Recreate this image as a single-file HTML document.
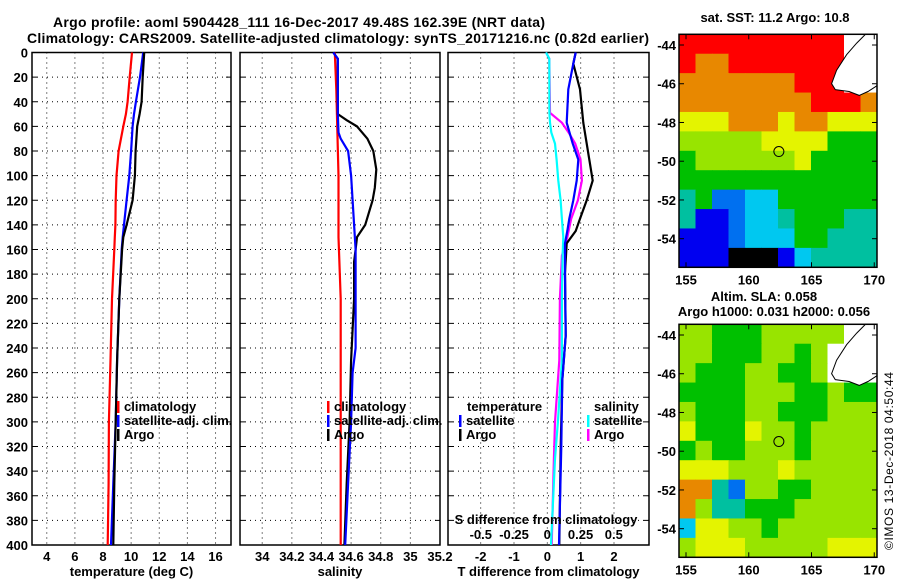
<!DOCTYPE html>
<html><head><meta charset="utf-8"><style>
body{margin:0;background:#fff;}
svg{display:block;font-family:"Liberation Sans",sans-serif;font-weight:bold;}
text{font-size:13px;fill:#000;}
</style></head><body>
<svg id="s" width="900" height="580" viewBox="0 0 900 580">
<text x="299" y="27" text-anchor="middle" style="font-size:14px" textLength="492">Argo profile: aoml 5904428_111 16-Dec-2017 49.48S 162.39E (NRT data)</text>
<text x="338" y="43" text-anchor="middle" style="font-size:14px" textLength="622">Climatology: CARS2009. Satellite-adjusted climatology: synTS_20171216.nc (0.82d earlier)</text>
<text x="775" y="22" text-anchor="middle">sat. SST: 11.2 Argo: 10.8</text>
<text x="764" y="301" text-anchor="middle">Altim. SLA: 0.058</text>
<text x="774" y="316" text-anchor="middle">Argo h1000: 0.031 h2000: 0.056</text>
<text transform="translate(893,550) rotate(-90)" style="font-size:12px;font-weight:normal" textLength="178">©IMOS 13-Dec-2018 04:50:44</text>
<g id="g"></g>
</svg>
<script>
// ---- data ----
const depthTicks=[0,20,40,60,80,100,120,140,160,180,200,220,240,260,280,300,320,340,360,380,400];
const tempTicks=[4,6,8,10,12,14,16];
const salTicks=[34,34.2,34.4,34.6,34.8,35,35.2];
const tdiffTicks=[-2,-1,0,1,2];
const sdiffTicks=[-0.5,-0.25,0,0.25,0.5];
const tDepth=[0,20,40,50,60,80,100,120,140,150,160,200,250,300,350,400];
const tClim=[10.06,9.9,9.75,9.63,9.44,9.11,8.96,8.9,8.88,8.84,8.8,8.64,8.53,8.42,8.4,8.33];
const tSat=[10.86,10.63,10.34,10.2,10.1,10.0,9.87,9.68,9.49,9.4,9.33,9.16,9.0,8.9,8.73,8.57];
const tArgo=[10.93,10.82,10.74,10.6,10.43,10.32,10.27,10.1,9.68,9.44,9.36,9.16,9.0,8.9,8.8,8.73];
const sDepthClim=[0,30,100,150,200,300,400];
const sClim=[34.49,34.5,34.515,34.515,34.53,34.53,34.53];
const sDepthSat=[0,5,50,65,70,80,100,120,140,160,240,260,300,350,400];
const sSat=[34.48,34.51,34.51,34.515,34.53,34.58,34.6,34.61,34.62,34.63,34.63,34.61,34.6,34.58,34.56];
const sDepthArgo=[0,5,50,55,60,70,80,95,110,120,140,150,160,170,200,250,300,350,400];
const sArgo=[34.48,34.51,34.51,34.57,34.64,34.71,34.75,34.77,34.76,34.745,34.695,34.64,34.63,34.62,34.62,34.6,34.59,34.57,34.555];
const dDepthT=[0,9,30,57,74,87,104,120,135,145,155,179,230,266,320,400];
const dTSat=[0.85,0.78,0.63,0.58,0.76,0.93,0.88,0.78,0.66,0.6,0.53,0.53,0.55,0.45,0.42,0.35];
const dTArgo=[0.85,0.78,0.98,1.08,1.18,1.26,1.36,1.18,0.98,0.85,0.58,0.53,0.55,0.45,0.4,0.36];
const dDepthS=[0,5,49,57,65,74,87,104,120,135,150,165,200,250,300,330,400];
const dSArgo=[-0.01,0.015,0.02,0.11,0.16,0.21,0.25,0.26,0.23,0.18,0.15,0.11,0.095,0.09,0.058,0.05,0.033];
const dSSat=[-0.01,0.015,0.016,0.02,0.03,0.058,0.07,0.083,0.1,0.11,0.12,0.115,0.11,0.11,0.08,0.058,0.028];
const lonTicks=[155,160,165,170];
const latTicks=[-44,-46,-48,-50,-52,-54];
const palette=['#000000','#0000f0','#0070f0','#00c8f0','#00c0a0','#00c000','#98e400','#e4f400','#e88800','#ff0000','#ffffff'];
const sstGrid=[
[9,9,9,9,9,9,9,9,9,9,10,10],
[9,8,8,9,9,9,9,9,9,9,10,10],
[8,8,8,8,8,8,8,9,9,9,10,10],
[8,8,8,8,8,8,8,8,9,9,9,8],
[7,7,7,8,8,8,7,8,8,7,7,7],
[6,6,6,6,6,7,7,7,7,5,5,5],
[5,6,6,6,6,6,6,7,5,5,5,5],
[5,5,5,5,5,5,5,5,5,5,5,5],
[4,5,2,2,3,3,5,5,5,5,5,5],
[4,1,1,2,3,3,4,5,5,5,4,4],
[1,1,1,2,3,3,3,5,5,4,4,4],
[1,1,1,0,0,0,1,3,4,4,4,4]];
const slaGrid=[
[6,6,5,5,5,6,6,6,6,6,10,10],
[6,6,5,5,5,6,6,5,6,10,10,10],
[6,5,5,5,6,6,5,5,6,10,10,10],
[5,5,5,5,6,6,6,5,5,6,5,5],
[6,5,5,5,6,6,5,5,5,6,6,6],
[7,5,5,5,7,6,6,5,6,6,6,6],
[5,6,5,5,6,6,6,5,6,6,6,6],
[7,7,7,6,6,6,7,6,6,6,6,6],
[8,8,4,2,6,6,5,5,6,6,6,6],
[8,6,4,4,5,5,5,6,6,6,6,6],
[3,7,7,6,6,5,6,6,6,6,6,6],
[6,7,7,7,6,6,6,6,6,7,7,7]];
const landLon=[169.3,170.3,170.3,169.5,168.8,168,166.9,166.6,167.0,167.8,168.6];
const landLat=[-43.45,-43.45,-46.1,-46.4,-46.6,-46.4,-46.3,-46.0,-45.3,-44.5,-43.9];
const argoLon=162.4, argoLat=-49.5;

// ---- helpers ----
const NS='http://www.w3.org/2000/svg';
const G=document.getElementById('g');
function mk(tag,attrs,parent){const e=document.createElementNS(NS,tag);for(const k in attrs)e.setAttribute(k,attrs[k]);(parent||G).appendChild(e);return e;}
const PY0=52.5,PY1=545;
const yD=d=>PY0+(PY1-PY0)*d/400;
function fmt(v){return String(v);}

function panel(name,x0,x1,vmin,vmax,ticks,xlabel){
  const xs=v=>x0+(x1-x0)*(v-vmin)/(vmax-vmin);
  ticks.forEach(t=>{const l=mk('line',{x1:xs(t),x2:xs(t),y1:PY0,y2:PY1,stroke:'#000','stroke-width':1,'stroke-dasharray':'1 4'});
    
    
    const tx=mk('text',{x:xs(t),y:561,'text-anchor':'middle'});tx.textContent=fmt(t);
    
    
  });
  depthTicks.forEach(d=>{
    if(d>0&&d<400){const l=mk('line',{x1:x0,x2:x1,y1:yD(d),y2:yD(d),stroke:'#000','stroke-width':1,'stroke-dasharray':'1 4'});
    
    }
    mk('line',{x1:x0,x2:x0+5,y1:yD(d),y2:yD(d),stroke:'#000'});
    mk('line',{x1:x1-5,x2:x1,y1:yD(d),y2:yD(d),stroke:'#000'});
  });
  const r=mk('rect',{x:x0,y:PY0,width:x1-x0,height:PY1-PY0,fill:'none',stroke:'#000','stroke-width':1.5});
  
  
  const xl=mk('text',{x:(x0+x1)/2,y:576,'text-anchor':'middle'});xl.textContent=xlabel;
  
  
  return xs;
}
function line(xs,depths,vals,color,name){
  const pts=depths.map((d,i)=>xs(vals[i]).toFixed(1)+','+yD(d).toFixed(1)).join(' ');
  const p=mk('polyline',{points:pts,fill:'none',stroke:color,'stroke-width':2.2});
  
  
}
function legend(x,y,color,label,name){
  mk('rect',{x:x,y:y-10,width:2.5,height:12,fill:color});
  const t=mk('text',{x:x+7,y:y});t.textContent=label;
  
  
}

depthTicks.forEach(d=>{const t=mk('text',{x:28,y:yD(d)+5,'text-anchor':'end'});t.textContent=d;
  
  });

const xT=panel('temperature-panel',32,231,2.95,17.1,tempTicks,'temperature (deg C)');
line(xT,tDepth,tClim,'#ff0000','temp-climatology-line');
line(xT,tDepth,tSat,'#0000ff','temp-satellite-line');
line(xT,tDepth,tArgo,'#000000','temp-argo-line');
legend(117,411,'#ff0000','climatology','temp-legend-climatology');
legend(117,425,'#0000ff','satellite-adj. clim.','temp-legend-satellite');
legend(117,439,'#000000','Argo','temp-legend-argo');

const xS=panel('salinity-panel',240,440,33.85,35.2,salTicks,'salinity');
line(xS,sDepthClim,sClim,'#ff0000','sal-climatology-line');
line(xS,sDepthArgo,sArgo,'#000000','sal-argo-line');
line(xS,sDepthSat,sSat,'#0000ff','sal-satellite-line');
legend(327,411,'#ff0000','climatology','sal-legend-climatology');
legend(327,425,'#0000ff','satellite-adj. clim.','sal-legend-satellite');
legend(327,439,'#000000','Argo','sal-legend-argo');

const xDT=panel('difference-panel',448,649,-2.98,3.05,tdiffTicks,'T difference from climatology');
const xDS=v=>547.3+v*133;
line(xDS,dDepthS,dSArgo,'#ff00ff','sdiff-argo-line');
line(xDS,dDepthS,dSSat,'#00ffff','sdiff-satellite-line');
line(xDT,dDepthT,dTArgo,'#000000','tdiff-argo-line');
line(xDT,dDepthT,dTSat,'#0000ff','tdiff-satellite-line');
{const t=mk('text',{x:467,y:411});t.textContent='temperature';

}
legend(459,425,'#0000ff','satellite','tdiff-legend-satellite');
legend(459,439,'#000000','Argo','tdiff-legend-argo');
{const t=mk('text',{x:594,y:411});t.textContent='salinity';

}
legend(587,425,'#00ffff','satellite','sdiff-legend-satellite');
legend(587,439,'#ff00ff','Argo','sdiff-legend-argo');
{const t=mk('text',{x:546,y:524,'text-anchor':'middle'});t.textContent='S difference from climatology';

}
sdiffTicks.forEach(v=>{const t=mk('text',{x:xDS(v),y:539,'text-anchor':'middle'});t.textContent=String(v);
  
  });

function map(name,top,grid){
  const x0=679,x1=877,y1=top+233;
  const lonX=lo=>686+(lo-155)*12.55;
  const latY=la=>top+10.7+(-44-la)*19.37;
  const rows=grid.length,cols=grid[0].length,cw=(x1-x0)/cols,ch=(y1-top)/rows;
  grid.forEach((row,r)=>row.forEach((v,c)=>{
    const cell=mk('rect',{x:x0+c*cw,y:top+r*ch,width:cw+0.5,height:ch+0.5,fill:palette[v]});
    
    
  }));
  const pts=landLon.map((lo,i)=>Math.min(lonX(lo),x1).toFixed(1)+','+Math.max(latY(landLat[i]),top).toFixed(1)).join(' ');
  const land=mk('polygon',{points:pts,fill:'#fff',stroke:'#000','stroke-width':1});
  
  
  const ci=mk('circle',{cx:lonX(argoLon),cy:latY(argoLat),r:5,fill:'none',stroke:'#000','stroke-width':1});
  
  
  const fr=mk('rect',{x:x0,y:top,width:x1-x0,height:y1-top,fill:'none',stroke:'#000','stroke-width':1.5});
  
  
  lonTicks.forEach(lo=>{mk('line',{x1:lonX(lo),x2:lonX(lo),y1:top,y2:top+5,stroke:'#000'});
    mk('line',{x1:lonX(lo),x2:lonX(lo),y1:y1-5,y2:y1,stroke:'#000'});
    const t=mk('text',{x:lonX(lo),y:y1+17,'text-anchor':'middle'});t.textContent=lo;
    
    });
  latTicks.forEach(la=>{mk('line',{x1:x0,x2:x0+5,y1:latY(la),y2:latY(la),stroke:'#000'});
    mk('line',{x1:x1-5,x2:x1,y1:latY(la),y2:latY(la),stroke:'#000'});
    const t=mk('text',{x:676,y:latY(la)+5,'text-anchor':'end'});t.textContent=la;
    
    });
}
map('sst-map',34.3,sstGrid);
map('sla-map',324.3,slaGrid);
</script>
</body></html>
